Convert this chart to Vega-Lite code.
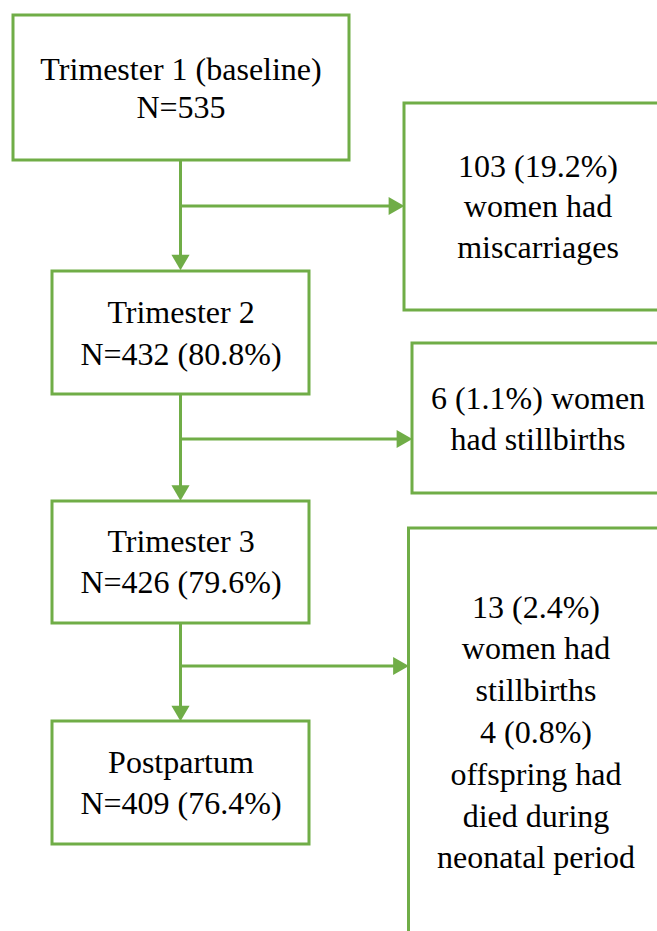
{
  "$schema": "https://vega.github.io/schema/vega-lite/v6.json",
  "width": 657,
  "height": 931,
  "padding": 0,
  "autosize": {"type": "none"},
  "background": "white",
  "config": {"view": {"stroke": null}},
  "datasets": {
    "boxes": [
      {"id": "t1", "x": 13, "x2": 349, "y": 15, "y2": 160},
      {"id": "t2", "x": 52, "x2": 309, "y": 271, "y2": 394},
      {"id": "t3", "x": 52, "x2": 309, "y": 501, "y2": 623},
      {"id": "pp", "x": 52, "x2": 309, "y": 721, "y2": 844},
      {"id": "r1", "x": 404, "x2": 700, "y": 103, "y2": 310},
      {"id": "r2", "x": 412, "x2": 700, "y": 343, "y2": 493},
      {"id": "r3", "x": 408.5, "x2": 700, "y": 528, "y2": 960}
    ],
    "links": [
      {"x": 180.5, "x2": 180.5, "y": 160, "y2": 262},
      {"x": 180.5, "x2": 397, "y": 206, "y2": 206},
      {"x": 180.5, "x2": 180.5, "y": 394, "y2": 493},
      {"x": 180.5, "x2": 405, "y": 439, "y2": 439},
      {"x": 180.5, "x2": 180.5, "y": 623, "y2": 713},
      {"x": 180.5, "x2": 401, "y": 666, "y2": 666}
    ],
    "heads": [
      {"x": 180.5, "y": 262.5, "dir": "down"},
      {"x": 396.5, "y": 206, "dir": "right"},
      {"x": 180.5, "y": 493, "dir": "down"},
      {"x": 404.5, "y": 439, "dir": "right"},
      {"x": 180.5, "y": 713.5, "dir": "down"},
      {"x": 401, "y": 666, "dir": "right"}
    ],
    "labels": [
      {"x": 181, "y": 70, "text": "Trimester 1 (baseline)"},
      {"x": 181, "y": 108, "text": "N=535"},
      {"x": 538, "y": 167, "text": "103 (19.2%)"},
      {"x": 538, "y": 207, "text": "women had"},
      {"x": 538, "y": 248, "text": "miscarriages"},
      {"x": 181, "y": 313, "text": "Trimester 2"},
      {"x": 181, "y": 355, "text": "N=432 (80.8%)"},
      {"x": 538, "y": 399, "text": "6 (1.1%) women"},
      {"x": 538, "y": 440, "text": "had stillbirths"},
      {"x": 181, "y": 542, "text": "Trimester 3"},
      {"x": 181, "y": 583, "text": "N=426 (79.6%)"},
      {"x": 536, "y": 608, "text": "13 (2.4%)"},
      {"x": 536, "y": 649, "text": "women had"},
      {"x": 536, "y": 691, "text": "stillbirths"},
      {"x": 536, "y": 733, "text": "4 (0.8%)"},
      {"x": 536, "y": 775, "text": "offspring had"},
      {"x": 536, "y": 817, "text": "died during"},
      {"x": 536, "y": 858, "text": "neonatal period"},
      {"x": 181, "y": 763, "text": "Postpartum"},
      {"x": 181, "y": 804, "text": "N=409 (76.4%)"}
    ]
  },
  "layer": [
    {
      "data": {"name": "boxes"},
      "mark": {"type": "rect", "fill": null, "stroke": "#70AD47", "strokeWidth": 3, "clip": true},
      "encoding": {
        "x": {"field": "x", "type": "quantitative", "scale": {"domain": [0, 657], "nice": false, "zero": false}, "axis": null},
        "x2": {"field": "x2"},
        "y": {"field": "y", "type": "quantitative", "scale": {"domain": [0, 931], "reverse": true, "nice": false, "zero": false}, "axis": null},
        "y2": {"field": "y2"}
      }
    },
    {
      "data": {"name": "links"},
      "mark": {"type": "rule", "stroke": "#70AD47", "strokeWidth": 3},
      "encoding": {
        "x": {"field": "x", "type": "quantitative"},
        "x2": {"field": "x2"},
        "y": {"field": "y", "type": "quantitative"},
        "y2": {"field": "y2"}
      }
    },
    {
      "data": {"name": "heads"},
      "mark": {"type": "point", "filled": true, "size": 330, "color": "#70AD47", "opacity": 1, "strokeWidth": 0},
      "encoding": {
        "x": {"field": "x", "type": "quantitative"},
        "y": {"field": "y", "type": "quantitative"},
        "shape": {"field": "dir", "type": "nominal", "scale": {"domain": ["down", "right"], "range": ["triangle-down", "triangle-right"]}, "legend": null}
      }
    },
    {
      "data": {"name": "labels"},
      "mark": {"type": "text", "font": "Liberation Serif", "fontSize": 32, "color": "black", "align": "center", "baseline": "middle"},
      "encoding": {
        "x": {"field": "x", "type": "quantitative"},
        "y": {"field": "y", "type": "quantitative"},
        "text": {"field": "text", "type": "nominal"}
      }
    }
  ]
}
